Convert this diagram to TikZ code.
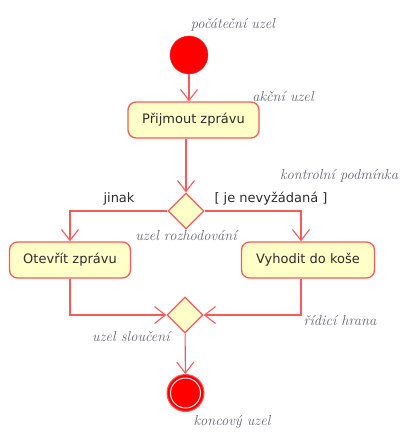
\documentclass[tikz,border=0pt]{standalone}
\usepackage{fontspec}
\newfontfamily\umlfont{DejaVu Sans}
\usetikzlibrary{arrows.meta,shapes.geometric}

\definecolor{umlred}{RGB}{248,90,90}
\definecolor{umlfill}{RGB}{255,255,200}
\definecolor{notegray}{RGB}{100,100,118}
\definecolor{umltext}{RGB}{45,45,45}

\tikzset{
  action/.style={draw=umlred, fill=umlfill, rounded corners=8pt, line width=1.3pt,
    minimum height=36pt, inner xsep=0pt, text=umltext,
    font=\umlfont\fontsize{13}{16}\selectfont},
  branch/.style={diamond, draw=umlred, fill=umlfill, line width=1.3pt,
    minimum size=36pt, inner sep=0pt},
  flow/.style={draw=umlred, line width=1.1pt,
    -{Straight Barb[length=11pt,width=17pt,line width=1.1pt]}},
  note/.style={text=notegray, font=\itshape\fontsize{14.5}{17}\selectfont},
  guard/.style={text=umltext, font=\umlfont\fontsize{13}{16}\selectfont},
}

\begin{document}
\begin{tikzpicture}[x=1pt,y=-1pt]
    \pgfmathsetmacro{\midX}{186}    % osa diagramu
    \pgfmathsetmacro{\leftX}{70}    % levá větev
    \pgfmathsetmacro{\rightX}{308}  % pravá větev
    \pgfmathsetmacro{\rowY}{260}    % řada akcí

    \useasboundingbox (0,0) rectangle (404,436);

    % uzly
    \node[circle, fill=red, draw=red!85, minimum size=38pt, inner sep=0pt] (start) at (189,55) {};
    \node[action, minimum width=131pt] (receive) at (193.5,120) {Přijmout zprávu};
    \node[branch] (decide) at (\midX,211) {};
    \node[action, minimum width=121pt] (open) at (\leftX,\rowY) {Otevřít zprávu};
    \node[action, minimum width=133pt] (trash) at (\rightX,\rowY) {Vyhodit do koše};
    \node[branch] (merge) at (185,315) {};
    \node[circle, fill=red, draw=umlred, line width=1pt, minimum size=37pt, inner sep=0pt] (final) at (185.5,393) {};
    \node[circle, fill=red, draw=red!10, line width=1pt, minimum size=30pt, inner sep=0pt] (finalin) at (final) {};

    % hrany
    \draw[flow] (start) -- (start |- receive.north);
    \draw[flow] (decide |- receive.south) -- (decide);
    \draw[flow] (decide.west) -| (open.north);
    \draw[flow] (decide.east) -| ([xshift=-7pt]trash.north);
    \draw[flow] (open) |- (merge);
    \draw[flow] ([xshift=-7pt]trash.south) |- (merge);
    \draw[flow] (merge) -- (final);

    % popisky
    \node[note] (lstart) at (233,25) {počáteční uzel};
    \node[note] (laction) at (283,97) {akční uzel};
    \node[note] (lguard) at (339,176) {kontrolní podmínka};
    \node[guard] (gelse) at (119,199) {jinak};
    \node[guard] (gspam) at (271,199) {[ je nevyžádaná ]};
    \node[note] (ldecide) at (186,236) {uzel rozhodování};
    \node[note] (ledge) at (340,321) {řídicí hrana};
    \node[note] (lmerge) at (131,337) {uzel sloučení};
    \node[note] (lfinal) at (232,422) {koncový uzel};
\end{tikzpicture}
\end{document}
